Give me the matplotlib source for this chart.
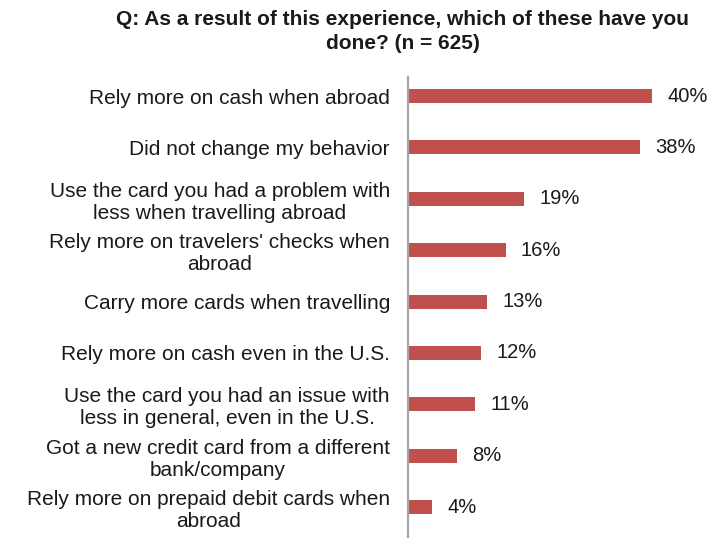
import matplotlib.pyplot as plt
import numpy as np

# Survey answers, top to bottom
answers = [
    "Rely more on cash when abroad",
    "Did not change my behavior",
    "Use the card you had a problem with\nless when travelling abroad",
    "Rely more on travelers' checks when\nabroad",
    "Carry more cards when travelling",
    "Rely more on cash even in the U.S.",
    "Use the card you had an issue with\nless in general, even in the U.S.",
    "Got a new credit card from a different\nbank/company",
    "Rely more on prepaid debit cards when\nabroad",
]
shares = [40, 38, 19, 16, 13, 12, 11, 8, 4]

title = "Q: As a result of this experience, which of these have you\ndone? (n = 625)"

plt.rcParams['font.family'] = ['Liberation Sans', 'DejaVu Sans']

fig = plt.figure(figsize=(7.13, 5.38), dpi=100)
ax = fig.add_axes([408 / 713, 0, 305 / 713, 1 - 77 / 538])

y = np.arange(len(answers))
ax.barh(y, shares, height=0.27, color='#C0504D')

for yi, v in zip(y, shares):
    ax.annotate(f"{v}%", (v, yi), xytext=(11, 0), textcoords='offset points',
                ha='left', va='center', fontsize=14.5, color='#1a1a1a')

ax.set_xlim(0, 50)
ax.set_ylim(8.6, -0.37)
ax.set_yticks(y)
ax.set_yticklabels(answers, fontsize=15, color='#1a1a1a',
                   multialignment='center', linespacing=1.2)
ax.tick_params(axis='y', length=0, pad=13)
ax.set_xticks([])

for s in ['top', 'right', 'bottom']:
    ax.spines[s].set_visible(False)
ax.spines['left'].set_color('#a6a6a6')
ax.spines['left'].set_linewidth(1.6)

fig.text(403 / 713, 1 - 10 / 538, title, ha='center', va='top',
         fontsize=15, fontweight='bold', color='#1a1a1a',
         family=['Liberation Sans Narrow', 'Liberation Sans', 'DejaVu Sans'],
         linespacing=1.35)

fig.savefig('out.png', dpi=100)
